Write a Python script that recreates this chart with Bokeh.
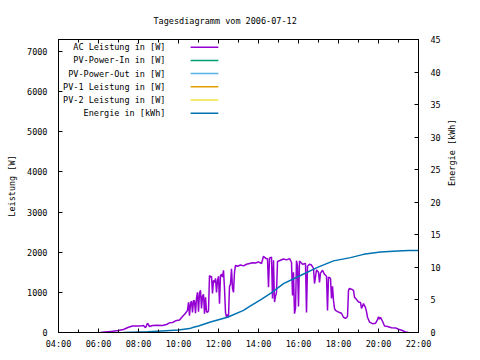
import math
import pandas as pd
from bokeh.plotting import figure
from bokeh.models import Range1d, LinearAxis, DatetimeAxis, FixedTicker, DatetimeTickFormatter, CustomJSTickFormatter
from bokeh.core.properties import value
from bokeh.embed import file_html
from bokeh.resources import INLINE

DATE = "2006-07-12"
TITLE = "Tagesdiagramm vom 2006-07-12"

ac_times = ["06:06", "06:18", "06:30", "06:42", "07:00", "07:15", "07:30", "07:42", "07:54", "08:06",
            "08:15", "08:21", "08:27", "08:33", "08:42", "08:57", "09:12", "09:24", "09:33", "09:42",
            "09:51", "10:03", "10:12", "10:21", "10:27", "10:30", "10:33", "10:36", "10:39", "10:42",
            "10:45", "10:48", "10:51", "10:54", "10:57", "11:00", "11:03", "11:06", "11:09", "11:12",
            "11:15", "11:18", "11:21", "11:24", "11:27", "11:30", "11:33", "11:36", "11:39", "11:42",
            "11:45", "11:48", "11:51", "11:54", "11:57", "12:00", "12:03", "12:06", "12:09", "12:12",
            "12:15", "12:18", "12:21", "12:24", "12:27", "12:30", "12:33", "12:36", "12:39", "12:42",
            "12:45", "12:48", "12:51", "12:57", "13:06", "13:15", "13:24", "13:33", "13:42", "13:51",
            "14:00", "14:09", "14:15", "14:21", "14:27", "14:30", "14:33", "14:39", "14:42", "14:45",
            "14:48", "14:51", "14:54", "14:57", "15:06", "15:15", "15:24", "15:33", "15:39", "15:42",
            "15:45", "15:48", "15:51", "15:54", "15:57", "16:00", "16:03", "16:12", "16:21", "16:24",
            "16:27", "16:33", "16:39", "16:45", "16:48", "16:54", "17:00", "17:03", "17:06", "17:12",
            "17:18", "17:24", "17:27", "17:30", "17:36", "17:39", "17:42", "17:45", "17:48", "17:51",
            "17:57", "18:03", "18:09", "18:15", "18:21", "18:27", "18:30", "18:33", "18:39", "18:45",
            "18:48", "18:54", "19:00", "19:06", "19:09", "19:15", "19:21", "19:24", "19:27", "19:33",
            "19:42", "19:51", "19:57", "20:00", "20:03", "20:06", "20:12", "20:18", "20:27", "20:39",
            "20:51", "21:00", "21:12", "21:21", "21:30"]
ac_watts = [0, 10, 20, 30, 50, 75, 130, 160, 160, 165,
            175, 120, 230, 150, 175, 180, 175, 200, 240, 250,
            290, 310, 400, 480, 550, 750, 420, 730, 780, 500,
            800, 780, 480, 850, 1000, 520, 980, 1050, 600, 900,
            950, 470, 880, 520, 500, 540, 1420, 1380, 1400, 970,
            1300, 1250, 1350, 1000, 1300, 1400, 720, 1420, 1450, 1380,
            1550, 1100, 500, 380, 450, 380, 1150, 1200, 1590, 1100,
            1000, 1500, 1670, 1650, 1680, 1660, 1700, 1720, 1740, 1730,
            1760, 1720, 1900, 1850, 1830, 1130, 1850, 1880, 850, 1800,
            760, 900, 1000, 1770, 1800, 1830, 1810, 1840, 1750, 920,
            1500, 470, 600, 1790, 1650, 650, 1780, 1700, 1720, 500,
            1650, 1700, 1680, 1600, 1220, 1560, 1500, 1250, 1480, 1550,
            1450, 1400, 550, 1380, 1350, 850, 1150, 800, 600, 550,
            520, 500, 480, 380, 350, 400, 1050, 1100, 1080, 1050,
            880, 820, 760, 750, 600, 720, 620, 520, 380, 260,
            220, 230, 320, 390, 330, 380, 280, 160, 150, 120,
            115, 80, 50, 10, 0]

energy_times = ["07:15", "08:27", "08:57", "10:00", "10:33", "10:45", "11:00", "11:36", "12:27", "13:15",
                "13:36", "14:06", "14:36", "15:15", "16:06", "16:57", "17:45", "18:36", "19:15", "20:06",
                "20:57", "21:30", "22:00"]
energy_kwh = [0, 0.1, 0.2, 0.4, 0.6, 0.8, 1.0, 1.6, 2.35, 3.4,
              4.1, 5.0, 6.0, 7.5, 8.75, 10.0, 11.0, 11.5, 12.0, 12.35,
              12.5, 12.6, 12.6]

legend_labels = ["AC Leistung in [W]", "PV-Power-In in [W]", "PV-Power-Out in [W]",
                 "PV-1 Leistung in [W]", "PV-2 Leistung in [W]", "Energie in [kWh]"]
legend_colors = ["#9400d3", "#009e73", "#56b4e9", "#e69f00", "#f0e442", "#0072b2"]

x_major_hours = ["04:00", "06:00", "08:00", "10:00", "12:00", "14:00", "16:00", "18:00", "20:00", "22:00"]
x_minor_hours = ["05:00", "07:00", "09:00", "11:00", "13:00", "15:00", "17:00", "19:00", "21:00"]
y_ticks = [0, 1000, 2000, 3000, 4000, 5000, 6000, 7000]
y2_ticks = [0, 5, 10, 15, 20, 25, 30, 35, 40, 45]

FONT = "DejaVu Sans Mono"
FS = "8.5px"


def ts(t):
    return pd.Timestamp(f"{DATE} {t}")


def ms(t):
    return ts(t).value / 1e6


x0, x1 = ms("04:00"), ms("22:00")
y0, y1 = 0, 7300

p = figure(frame_width=360, frame_height=293, x_axis_type="datetime",
           x_range=Range1d(x0, x1), y_range=Range1d(y0, y1),
           output_backend="svg", toolbar_location=None,
           min_border_left=58, min_border_right=62, min_border_top=39, min_border_bottom=28)
p.background_fill_color = "white"
p.border_fill_color = "white"
p.outline_line_color = "black"
p.outline_line_width = 1
p.xgrid.visible = False
p.ygrid.visible = False

p.title.text = TITLE
p.title.align = "left"
p.title.offset = 95
p.title.standoff = 27
p.title.text_font = FONT
p.title.text_font_size = FS
p.title.text_font_style = "normal"
p.title.text_color = "black"

xticker = FixedTicker(ticks=[ms(t) for t in x_major_hours], minor_ticks=[ms(t) for t in x_minor_hours])
fmt = DatetimeTickFormatter(minutes="%H:%M", hourmin="%H:%M", hours="%H:%M", days="%H:%M")


def style(ax):
    ax.axis_line_color = "black"
    ax.major_tick_line_color = "black"
    ax.minor_tick_line_color = "black"
    ax.major_tick_in = 4
    ax.major_tick_out = 0
    ax.minor_tick_in = 3
    ax.minor_tick_out = 0
    ax.major_label_text_font = FONT
    ax.major_label_text_font_size = FS
    ax.major_label_text_color = "black"
    ax.axis_label_text_font = FONT
    ax.axis_label_text_font_size = FS
    ax.axis_label_text_font_style = "normal"
    ax.axis_label_text_color = "black"


xa = p.xaxis[0]
xa.ticker = xticker
xa.formatter = fmt
style(xa)
xa.major_label_standoff = 6

ya = p.yaxis[0]
ya.ticker = FixedTicker(ticks=y_ticks)
ya.axis_label = "Leistung [W]"
style(ya)
ya.major_label_standoff = 11
ya.axis_label_standoff = 7

top = DatetimeAxis(ticker=xticker, formatter=CustomJSTickFormatter(code="return '';"))
style(top)
top.major_label_standoff = 0
p.add_layout(top, "above")

p.extra_y_ranges = {"energy": Range1d(0, 45)}
ya2 = LinearAxis(y_range_name="energy", ticker=FixedTicker(ticks=y2_ticks), axis_label="Energie [kWh]")
style(ya2)
ya2.major_label_standoff = 12
ya2.axis_label_standoff = 8
ya2.axis_label_orientation = math.pi / 2
p.add_layout(ya2, "right")

p.line([ts(t) for t in ac_times], ac_watts, color=legend_colors[0], line_width=1.5)
p.line([ts(t) for t in energy_times], energy_kwh, color=legend_colors[5], line_width=1.5,
       y_range_name="energy")

# legend (gnuplot style: right-aligned text, sample line to the right)
n = len(legend_labels)
ys = [y1 - (y1 - y0) * (0.0263 + 0.045 * i) for i in range(n)]
tx = x0 + (x1 - x0) * 0.297
lx0 = x0 + (x1 - x0) * 0.367
lx1 = x0 + (x1 - x0) * 0.444
p.text(x=[tx] * n, y=ys, text=legend_labels, text_align="right", text_baseline="middle",
       text_font=value(FONT), text_font_size=FS, text_color="black")
p.segment(x0=[lx0] * n, y0=ys, x1=[lx1] * n, y1=ys, color=legend_colors, line_width=1.5)

open("out.html", "w").write(file_html(p, INLINE))
